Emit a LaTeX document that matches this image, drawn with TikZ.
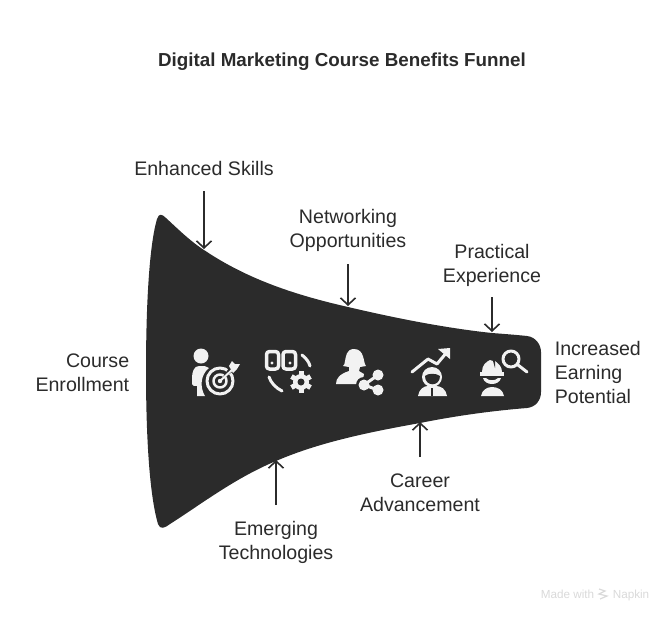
\documentclass[tikz,border=0pt]{standalone}
\usepackage{fontspec}
\setmainfont{Liberation Sans}
\usetikzlibrary{positioning, arrows.meta}

\definecolor{funnelgray}{HTML}{2B2B2B}
\definecolor{icongray}{HTML}{F2F2F2}
\definecolor{markgray}{HTML}{D9D9D9}

\tikzset{
  caption/.style = {font=\fontsize{19.6}{24}\selectfont, align=center, text=funnelgray, inner sep=0pt},
  iconfill/.style = {fill=icongray, draw=none},
  iconline/.style = {draw=icongray, line width=3pt, line cap=round, line join=round},
  iconhole/.style = {fill=funnelgray, draw=none},
  watermark/.style = {font=\fontsize{11.7}{13}\selectfont, text=markgray, inner sep=0pt}
}

\begin{document}
\begin{tikzpicture}[x=1pt, y=-1pt, >={Straight Barb[length=7pt, width=15pt]}, line width=1.6pt]
  \useasboundingbox (0,0) rectangle (672,622);

  \node[font=\bfseries\fontsize{18.8}{24}\selectfont, text=funnelgray, inner sep=0pt] (title) at (342,62) {Digital Marketing Course Benefits Funnel};

  % funnel body
  \fill[funnelgray] (166,218)
    .. controls (178,229) and (190,241) .. (204,250)
    .. controls (250,281) and (300,296) .. (348,307)
    .. controls (395,318) and (445,328) .. (492,333)
    .. controls (505,334) and (518,335) .. (527,336)
    .. controls (536,337) and (541,345) .. (541,352)
    -- (541,392)
    .. controls (541,400) and (536,407) .. (527,408)
    .. controls (490,411) and (455,416) .. (420,423)
    .. controls (370,432) and (320,442) .. (276,461)
    .. controls (235,478) and (200,505) .. (170,524)
    .. controls (165,528) and (160,530) .. (158,524)
    .. controls (148,490) and (146,420) .. (146,371)
    .. controls (146,320) and (148,250) .. (157,219)
    .. controls (159,213) and (162,214) .. (166,218) -- cycle;

  % arrow tips on the funnel
  \coordinate (skillsTip) at (204,249);
  \coordinate (networkTip) at (348,306);
  \coordinate (practiceTip) at (492,332);
  \coordinate (careerTip) at (420,422);
  \coordinate (techTip) at (276,460);

  \node[caption, above = 73pt of skillsTip] (skills) {Enhanced Skills};
  \node[caption, above = 54pt of networkTip] (network) {Networking\\Opportunities};
  \node[caption, above = 44.5pt of practiceTip] (practice) {Practical\\Experience};
  \node[caption, below = 51pt of careerTip] (career) {Career\\Advancement};
  \node[caption, below = 60pt of techTip] (tech) {Emerging\\Technologies};
  \node[caption, align=right, anchor=east] (course) at (130,373) {Course\\Enrollment};
  \node[caption, align=left, anchor=west] (earning) at (554,372) {Increased\\Earning\\Potential};

  \path[->, draw=funnelgray]
    (skills) edge [shorten <= 15pt] (skillsTip)
    (network) edge [shorten <= 12pt] (networkTip)
    (practice) edge [shorten <= 9.5pt] (practiceTip)
    (career) edge [shorten <= 16pt] (careerTip)
    (tech) edge [shorten <= 15pt] (techTip)
  ;

  % icon: person and target
  \fill[iconfill] (201,356) circle (7.5);
  \fill[iconfill] (199,366) .. controls (194,366) and (192,372) .. (192,378) -- (192,384) .. controls (192,386) and (195,386) .. (197,386) -- (197,396) -- (205,396) .. controls (200,388) and (200,375) .. (209,368) .. controls (207,366) and (204,366) .. (199,366) -- cycle;
  \draw[iconline, line width=3pt] (220,381) circle (13);
  \draw[iconline, line width=2.5pt] (220,381) circle (6.5);
  \fill[iconhole] (220,381) -- (232,372) -- (229,368) -- cycle;
  \fill[iconfill] (220,381) circle (2.2);
  \draw[iconline, line width=2pt] (220,381) -- (233,369);
  \fill[iconfill] (229,366) -- (232,361) -- (235,364) -- (240,364) -- (237,369) -- (233,373) -- cycle;

  % icon: chain and gear
  \draw[iconline, line width=3.5pt, rounded corners=3pt] (266.5,351.5) rectangle (278.5,369);
  \draw[iconline, line width=3.5pt, rounded corners=3pt] (283,351.5) rectangle (295.5,369);
  \fill[iconfill] (272,363) circle (1.6);
  \fill[iconfill] (290,363) circle (1.6);
  \draw[iconline] (302,355) .. controls (306,358) and (309,362) .. (310,366);
  \draw[iconline] (269,377) .. controls (271,383) and (276,388) .. (282,391);
  \foreach \ang in {0,60,...,300}
    \draw[icongray, line width=5pt] (301,382) -- ++(\ang+90:11);
  \fill[iconfill] (301,382) circle (8);
  \fill[iconhole] (301,382) circle (3.5);

  % icon: person and share
  \fill[iconfill] (354,349) .. controls (346,349) and (346,357) .. (345,361) .. controls (345,364) and (344,365) .. (343,366) -- (349,367) -- (349,371) .. controls (340,374) and (336,378) .. (336,384) -- (362,384) -- (364,374) -- (359,371) -- (360,367) -- (366,366) .. controls (363,363) and (365,349) .. (354,349) -- cycle;
  \fill[funnelgray] (364,385) circle (8);
  \draw[draw=funnelgray, line width=6pt] (378,375) -- (364,385);
  \draw[iconline] (378,375) -- (364,385) -- (378,390);
  \fill[iconfill] (378,375) circle (5.5);
  \fill[iconfill] (364,385) circle (5.5);
  \fill[iconfill] (378,390) circle (5.5);

  % icon: growth and person
  \draw[iconline] (412,372) -- (428,359) -- (437,364) -- (447,352);
  \fill[iconfill] (438,349) -- (450,348) -- (450,359) -- cycle;
  \fill[iconfill] (432,377) circle (10);
  \fill[iconhole] (425,376) .. controls (428,373) and (436,373) .. (440,376) .. controls (440,387) and (425,387) .. (425,376) -- cycle;
  \fill[iconfill] (418,396) .. controls (419,389) and (424,386) .. (428,386) -- (436,386) .. controls (441,386) and (446,389) .. (447,396) -- cycle;
  \fill[iconhole] (431,388) rectangle (433,396);

  % icon: worker and magnifier
  \fill[iconfill] (482,372) .. controls (482,365) and (486,362) .. (490,360) -- (493,361) -- (495,361) .. controls (499,364) and (502,367) .. (502,372) -- cycle;
  \fill[iconhole] (493,361) -- (495,361) -- (495,368) -- cycle;
  \fill[iconfill] (480,372) -- (504,372) -- (504,375.5) -- (480,375.5) -- cycle;
  \fill[iconfill] (483,378) .. controls (485,386) and (499,386) .. (501,378) -- (498,378) .. controls (496,381) and (488,381) .. (486,378) -- cycle;
  \fill[iconfill] (481,396) .. controls (482,390) and (487,387) .. (492,387) .. controls (498,387) and (503,390) .. (504,396) -- cycle;
  \draw[iconline] (511,359) circle (8);
  \draw[iconline] (518,365) -- (527,372);

  % watermark
  \node[watermark, anchor=base west] (made) at (540,598) {Made with};
  \node[watermark, anchor=base west] (napkin) at (612,598) {Napkin};
  \draw[markgray, line width=1.2pt] (599,589) -- (605,591) -- (599,594) -- (607,596) -- (600,599);
\end{tikzpicture}
\end{document}
